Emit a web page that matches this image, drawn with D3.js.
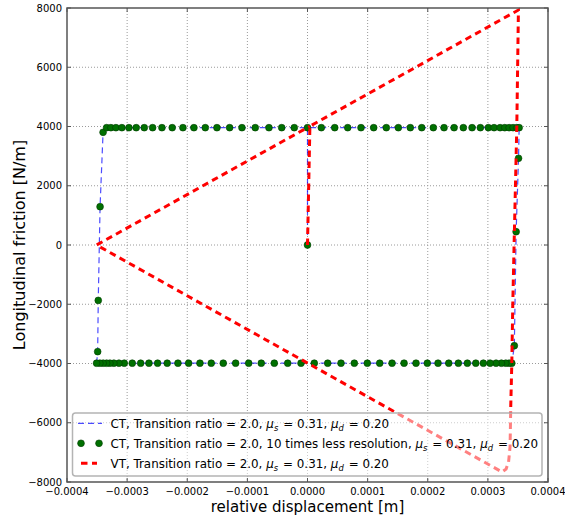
<!DOCTYPE html>
<html>
<head>
<meta charset="utf-8">
<script src="https://cdn.jsdelivr.net/npm/d3@7"></script>
<style>
  body { margin: 0; background: #fff; }
  svg text { font-family: "DejaVu Sans", sans-serif; fill: #000; }
</style>
</head>
<body>
<svg id="chart" width="565" height="520"></svg>
<script>
// ---- data -------------------------------------------------------------
// CT, full resolution: friction loop (relative displacement [m], friction [N/m])
const ctX = [0, 0, 3.52e-4, 3.51e-4, 3.47e-4, 3.44e-4, 3.40e-4, -3.508e-4, -3.49e-4, -3.48e-4, -3.45e-4, -3.40e-4, -3.34e-4, 0];
const ctY = [0, 3960, 3960, 2927, 449, -3400, -3990, -3990, -3600, -1870, 1293, 3804, 3960, 3960];

// CT, 10 times less resolution: sampled points around the loop
const ctLowX = [
  0,
  // upper branch, moving right
  0.000e-4, 0.230e-4, 0.453e-4, 0.669e-4, 0.890e-4, 1.101e-4, 1.311e-4, 1.511e-4, 1.710e-4, 1.900e-4,
  2.093e-4, 2.271e-4, 2.438e-4, 2.592e-4, 2.737e-4, 2.875e-4, 3.008e-4, 3.103e-4, 3.203e-4, 3.281e-4,
  3.353e-4, 3.419e-4, 3.481e-4, 3.520e-4,
  // right reversal
  3.51e-4, 3.47e-4, 3.44e-4,
  // lower branch, moving left
  3.398e-4, 3.353e-4, 3.298e-4, 3.225e-4, 3.136e-4, 3.037e-4, 2.925e-4, 2.799e-4, 2.659e-4, 2.509e-4,
  2.349e-4, 2.171e-4, 1.993e-4, 1.805e-4, 1.606e-4, 1.406e-4, 1.201e-4, 0.995e-4, 0.779e-4, 0.557e-4,
  0.336e-4, 0.113e-4, -0.108e-4, -0.329e-4, -0.552e-4, -0.769e-4, -0.978e-4, -1.195e-4, -1.401e-4, -1.601e-4,
  -1.789e-4, -1.977e-4, -2.155e-4, -2.333e-4, -2.493e-4, -2.637e-4, -2.775e-4, -2.915e-4, -3.048e-4, -3.136e-4,
  -3.220e-4, -3.286e-4, -3.341e-4, -3.398e-4, -3.453e-4, -3.508e-4,
  // left reversal
  -3.49e-4, -3.48e-4, -3.45e-4, -3.40e-4,
  // upper branch, moving right again
  -3.341e-4, -3.270e-4, -3.186e-4, -3.087e-4, -2.970e-4, -2.849e-4, -2.715e-4, -2.576e-4, -2.421e-4, -2.250e-4,
  -2.072e-4, -1.889e-4, -1.700e-4, -1.506e-4, -1.295e-4, -1.090e-4, -0.869e-4, -0.641e-4, -0.429e-4, -0.220e-4
];
const ctLowY = [
  0,
  3960, 3960, 3960, 3960, 3960, 3960, 3960, 3960, 3960, 3960,
  3960, 3960, 3960, 3960, 3960, 3960, 3960, 3960, 3960, 3960,
  3960, 3960, 3960, 3960,
  2927, 449, -3400,
  -3990, -3990, -3990, -3990, -3990, -3990, -3990, -3990, -3990, -3990,
  -3990, -3990, -3990, -3990, -3990, -3990, -3990, -3990, -3990, -3990,
  -3990, -3990, -3990, -3990, -3990, -3990, -3990, -3990, -3990, -3990,
  -3990, -3990, -3990, -3990, -3990, -3990, -3990, -3990, -3990, -3990,
  -3990, -3990, -3990, -3990, -3990, -3990,
  -3600, -1870, 1293, 3804,
  3960, 3960, 3960, 3960, 3960, 3960, 3960, 3960, 3960, 3960,
  3960, 3960, 3960, 3960, 3960, 3960, 3960, 3960, 3960, 3960
];

// VT: friction loop
const vtX = [0, 0.02e-4, 0.04e-4, 3.508e-4, 3.481e-4, 3.436e-4, 3.414e-4, 3.398e-4, 3.381e-4, 3.369e-4, 3.344e-4, 3.303e-4, 3.236e-4, -3.508e-4, 0.04e-4];
const vtY = [0, 2000, 4010, 7932, 3983, 0, -2025, -3983, -5401, -6819, -7325, -7561, -7662, 0, 4010];

const xTicks = [-0.0004, -0.0003, -0.0002, -0.0001, 0, 0.0001, 0.0002, 0.0003, 0.0004];
const yTicks = [-8000, -6000, -4000, -2000, 0, 2000, 4000, 6000, 8000];

const legendLabels = [
  "CT, Transition ratio = 2.0, μ_s = 0.31, μ_d = 0.20",
  "CT, Transition ratio = 2.0, 10 times less resolution, μ_s = 0.31, μ_d = 0.20",
  "VT, Transition ratio = 2.0, μ_s = 0.31, μ_d = 0.20"
];
const xLabel = "relative displacement [m]";
const yLabel = "Longitudinal friction [N/m]";

// ---- layout -----------------------------------------------------------
const svg = d3.select("#chart");
const plotL = 67, plotR = 548, plotT = 8, plotB = 482;

const x = d3.scaleLinear().domain([-0.0004, 0.0004]).range([plotL, plotR]);
const y = d3.scaleLinear().domain([-8000, 8000]).range([plotB, plotT]);

const fmtX = v => (v < 0 ? "\u2212" : "") + Math.abs(v).toFixed(4);
const fmtY = v => (v < 0 ? "\u2212" : "") + Math.abs(v).toFixed(0);

// grid
const grid = svg.append("g");
grid.selectAll("line.gx").data(xTicks.slice(1, -1)).join("line")
  .attr("x1", d => x(d)).attr("x2", d => x(d)).attr("y1", plotT).attr("y2", plotB)
  .attr("stroke", "#9a9a9a").attr("stroke-width", 1).attr("stroke-dasharray", "1,2");
grid.selectAll("line.gy").data(yTicks.slice(1, -1)).join("line")
  .attr("y1", d => y(d)).attr("y2", d => y(d)).attr("x1", plotL).attr("x2", plotR)
  .attr("stroke", "#9a9a9a").attr("stroke-width", 1).attr("stroke-dasharray", "1,2");

// CT full resolution (blue dashed)
const ctPts = ctX.map((v, i) => [v, ctY[i]]);
const line = d3.line().x(d => x(d[0])).y(d => y(d[1]));
svg.append("path").attr("d", line(ctPts))
  .attr("fill", "none").attr("stroke", "#0000ff").attr("stroke-opacity", 0.7)
  .attr("stroke-width", 1.2).attr("stroke-dasharray", "6,4");

// CT lower resolution (green dots)
svg.append("g").selectAll("circle").data(ctLowX.map((v, i) => [v, ctLowY[i]])).join("circle")
  .attr("cx", d => x(d[0])).attr("cy", d => y(d[1])).attr("r", 3.4)
  .attr("fill", "#007000").attr("stroke", "#003a00").attr("stroke-width", 0.6);

// VT (red thick dashed)
const vtPts = vtX.map((v, i) => [v, vtY[i]]);
svg.append("path").attr("d", line(vtPts))
  .attr("fill", "none").attr("stroke", "#ff0000").attr("stroke-width", 3)
  .attr("stroke-dasharray", "6.5,4.5");

// frame + inward ticks on all sides
const axisColor = "#555";
const ticks = svg.append("g").attr("stroke", axisColor).attr("stroke-width", 1);
xTicks.forEach(v => {
  ticks.append("line").attr("x1", x(v)).attr("x2", x(v)).attr("y1", plotB).attr("y2", plotB - 4);
  ticks.append("line").attr("x1", x(v)).attr("x2", x(v)).attr("y1", plotT).attr("y2", plotT + 4);
});
yTicks.forEach(v => {
  ticks.append("line").attr("y1", y(v)).attr("y2", y(v)).attr("x1", plotL).attr("x2", plotL + 4);
  ticks.append("line").attr("y1", y(v)).attr("y2", y(v)).attr("x1", plotR).attr("x2", plotR - 4);
});
svg.append("rect").attr("x", plotL).attr("y", plotT).attr("width", plotR - plotL).attr("height", plotB - plotT)
  .attr("fill", "none").attr("stroke", axisColor).attr("stroke-width", 1.5);

// tick labels
svg.append("g").selectAll("text").data(xTicks).join("text")
  .attr("x", d => x(d)).attr("y", plotB + 13).attr("text-anchor", "middle")
  .attr("font-size", 10).text(fmtX);
svg.append("g").selectAll("text").data(yTicks).join("text")
  .attr("x", plotL - 5).attr("y", d => y(d)).attr("dy", "0.35em").attr("text-anchor", "end")
  .attr("font-size", 10).text(fmtY);

// axis titles
svg.append("text").attr("x", (plotL + plotR) / 2).attr("y", 512).attr("text-anchor", "middle")
  .attr("font-size", 15).text(xLabel);
svg.append("text").attr("transform", `translate(25,${(plotT + plotB) / 2}) rotate(-90)`)
  .attr("text-anchor", "middle").attr("font-size", 16).text(yLabel);

// legend
const lg = svg.append("g");
lg.append("rect").attr("x", 72.5).attr("y", 413).attr("width", 469.5).attr("height", 63).attr("rx", 3)
  .attr("fill", "#fff").attr("fill-opacity", 0.5).attr("stroke", "#b4b4b4").attr("stroke-width", 1.5);
const rowY = [423.3, 443.3, 463.3];
lg.append("line").attr("x1", 78).attr("x2", 102).attr("y1", rowY[0]).attr("y2", rowY[0])
  .attr("stroke", "#0000ff").attr("stroke-opacity", 0.7).attr("stroke-width", 1.2).attr("stroke-dasharray", "6,4");
lg.selectAll("circle").data([81, 99]).join("circle")
  .attr("cx", d => d).attr("cy", rowY[1]).attr("r", 3.4)
  .attr("fill", "#007000").attr("stroke", "#003a00").attr("stroke-width", 0.6);
lg.append("line").attr("x1", 81).attr("x2", 97).attr("y1", rowY[2]).attr("y2", rowY[2])
  .attr("stroke", "#ff0000").attr("stroke-width", 3).attr("stroke-dasharray", "6.5,4.5");

// labels with italic μ and subscripts
legendLabels.forEach((label, i) => {
  const t = lg.append("text").attr("x", 110.5).attr("y", rowY[i]).attr("dy", "0.36em").attr("font-size", 11.9);
  const parts = label.split(/(μ_[a-z])/);
  parts.forEach(p => {
    if (/^μ_[a-z]$/.test(p)) {
      t.append("tspan").attr("font-style", "italic").text("μ");
      t.append("tspan").attr("font-style", "italic").attr("font-size", "0.7em").attr("dy", 3).text(p[2]);
      t.append("tspan").attr("dy", -3).text("\u200a");
    } else {
      t.append("tspan").text(p);
    }
  });
});
</script>
</body>
</html>
